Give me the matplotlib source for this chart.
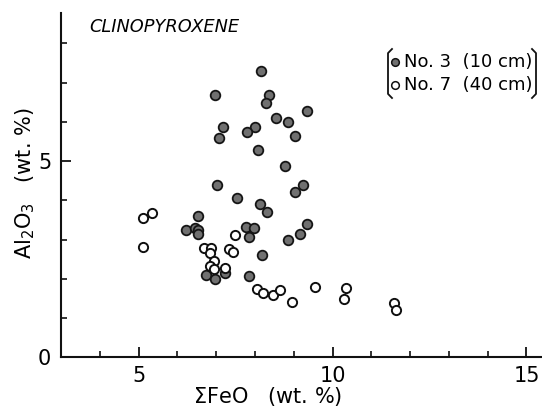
import matplotlib
matplotlib.use("Agg")
import matplotlib.pyplot as plt
from matplotlib.lines import Line2D
from matplotlib.ticker import MultipleLocator

plt.rcParams['font.family'] = ['DejaVu Sans']
plt.rcParams['mathtext.default'] = 'regular'

# No. 3 (10 cm) - filled
no3_feo = [8.16, 6.97, 8.35, 8.29, 9.34, 8.54, 8.84, 7.18, 8.00, 7.79, 7.08, 9.03,
           8.08, 8.78, 7.02, 9.25, 9.03, 7.55, 8.13, 8.31, 6.53, 9.34, 6.22, 6.46,
           6.54, 6.54, 7.76, 7.97, 7.84, 9.15, 8.85, 8.18, 6.74, 6.96, 7.23, 7.85]
no3_al = [7.29, 6.69, 6.68, 6.47, 6.28, 6.10, 5.99, 5.86, 5.88, 5.73, 5.59, 5.64,
          5.29, 4.87, 4.40, 4.39, 4.20, 4.07, 3.90, 3.70, 3.59, 3.40, 3.25, 3.29,
          3.24, 3.13, 3.31, 3.29, 3.07, 3.13, 2.99, 2.61, 2.10, 1.99, 2.15, 2.08]

# No. 7 (40 cm) - open
no7_feo = [5.12, 5.34, 5.12, 7.49, 6.68, 6.87, 6.85, 7.33, 7.44, 6.95, 6.85, 6.95,
           7.23, 8.05, 8.20, 8.47, 8.65, 8.96, 9.54, 10.36, 10.30, 11.58, 11.64]
no7_al = [3.54, 3.67, 2.80, 3.11, 2.78, 2.78, 2.67, 2.75, 2.68, 2.45, 2.33, 2.26,
          2.27, 1.73, 1.65, 1.60, 1.71, 1.40, 1.78, 1.77, 1.48, 1.38, 1.20]

series_labels = ["No. 3  (10 cm)", "No. 7  (40 cm)"]
xticks_major = [5, 10, 15]
yticks_major = [0, 5]

W, H = 542, 411
fig = plt.figure(figsize=(W / 100, H / 100), dpi=100)
ax = fig.add_axes([61 / W, (H - 357.3) / H, (W - 61) / W, (357.3 - 12.7) / H])

ax.scatter(no3_feo, no3_al, s=48, facecolor='#707070', edgecolor='#151515',
           linewidths=1.3, zorder=3, clip_on=False)
ax.scatter(no7_feo, no7_al, s=44, facecolor='white', edgecolor='#101010',
           linewidths=1.4, zorder=3, clip_on=False)

ax.set_xlim(3, 15.4)
ax.set_ylim(0, 8.78)
for s in ['top', 'right']:
    ax.spines[s].set_visible(False)
for s in ['left', 'bottom']:
    ax.spines[s].set_linewidth(1.5)
    ax.spines[s].set_color('#111111')

ax.set_xticks(xticks_major)
ax.set_yticks(yticks_major)
ax.xaxis.set_minor_locator(MultipleLocator(1))
ax.yaxis.set_minor_locator(MultipleLocator(1))
ax.tick_params(which='major', direction='in', length=7, width=1.3, labelsize=15,
               color='#111111')
ax.tick_params(which='minor', direction='in', length=4, width=1.2, color='#111111')
ax.tick_params(axis='x', which='major', pad=6)
ax.tick_params(axis='y', which='major', pad=7)

ax.set_xlabel(r"$\Sigma$FeO   (wt. %)", fontsize=15)
ax.xaxis.set_label_coords((268 - 61) / (W - 61), -(396 - 357.3) / (357.3 - 12.7))
ax.xaxis.label.set_va('center')
ax.set_ylabel(r"Al$_2$O$_3$   (wt. %)", fontsize=15)
ax.yaxis.set_label_coords(-(61 - 25) / (W - 61), (357.3 - 183) / (357.3 - 12.7))
ax.yaxis.label.set_va('center')

fig.text(89 / W, 1 - 27 / H, "CLINOPYROXENE", fontsize=12.8, style='italic',
         va='center', ha='left')

# legend
rows_y = [62, 85]
for yy, lab, fc in zip(rows_y, series_labels, ['#707070', 'white']):
    fig.add_artist(Line2D([395 / W], [1 - yy / H], marker='o', markersize=5.5,
                          markerfacecolor=fc, markeredgecolor='#111111',
                          markeredgewidth=1.1, linestyle='none'))
    fig.text(404 / W, 1 - yy / H, lab, fontsize=13, va='center', ha='left')

# brackets
y0, y1 = 1 - 49 / H, 1 - 98 / H
lx, rx = 388 / W, 536 / W
hk = 4 / W
fig.add_artist(Line2D([lx + hk, lx, lx, lx + hk], [y0, y0 - 0.01, y1 + 0.01, y1],
                      color='#111111', lw=1.3))
fig.add_artist(Line2D([rx - hk, rx, rx, rx - hk], [y0, y0 - 0.01, y1 + 0.01, y1],
                      color='#111111', lw=1.3))

fig.savefig("out.png", dpi=100)
